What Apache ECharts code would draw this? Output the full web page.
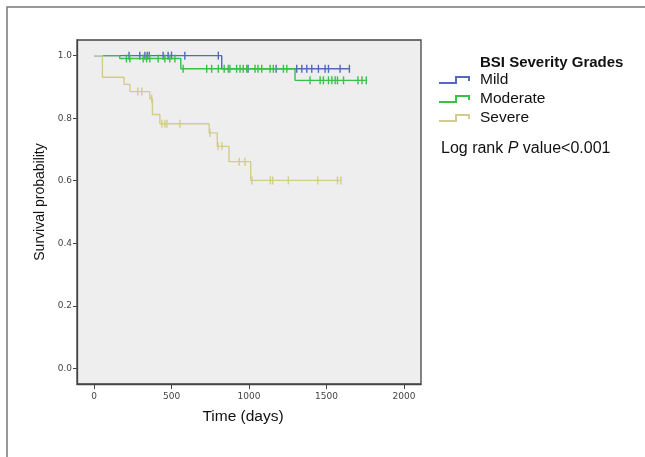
<!DOCTYPE html>
<html>
<head>
<meta charset="utf-8">
<script src="https://cdn.jsdelivr.net/npm/echarts@6/dist/echarts.min.js"></script>
<style>
html, body { margin: 0; padding: 0; background: #fff; }
#chart { width: 645px; height: 457px; }
</style>
</head>
<body>
<div id="chart"></div>
<script>
const groups = ['Mild', 'Moderate', 'Severe']
const colors = ['#5468bd', '#38c04b', '#d3cd8a']
const xTicks = [0, 500, 1000, 1500, 2000]
const yTicks = [0, 0.2, 0.4, 0.6, 0.8, 1.0]

// event times (days) and survival right after each event, plus censored times
const mildEventTimes = [824]
const mildEventSurv = [0.958]
const mildCensored = [226, 295, 328, 343, 356, 446, 478, 500, 586, 802, 994, 1175, 1308, 1341, 1373, 1405, 1448, 1491, 1513, 1588, 1648]

const moderateEventTimes = [166, 560, 1297]
const moderateEventSurv = [0.991, 0.958, 0.921]
const moderateCensored = [209, 231, 317, 339, 360, 414, 457, 489, 522, 575, 727, 759, 802, 840, 866, 877, 920, 942, 963, 985, 1039, 1058, 1082, 1136, 1157, 1222, 1244, 1394, 1459, 1480, 1513, 1535, 1556, 1571, 1610, 1703, 1729, 1757]

const severeEventTimes = [54, 194, 231, 360, 377, 425, 743, 795, 871, 1011]
const severeEventSurv = [0.931, 0.908, 0.885, 0.862, 0.812, 0.782, 0.753, 0.710, 0.661, 0.601]
const severeCensored = [282, 308, 372, 438, 457, 470, 554, 748, 800, 826, 937, 974, 1019, 1138, 1153, 1254, 1444, 1571, 1593]

const FONT = '"Liberation Sans", Arial, Helvetica, sans-serif'

// survival at time t = value after the latest event at or before t
const survAt = (evT, evS, t) => {
    let s = 1
    evT.forEach((et, i) => { if (et <= t) s = evS[i] })
    return s
}

const kmData = (evT, evS, cens) => {
    const pts = [{ value: [0, 1], symbol: 'none', order: 0 }]
    evT.forEach((t, i) => pts.push({ value: [t, evS[i]], symbol: 'none', order: 0 }))
    cens.forEach(t => pts.push({ value: [t, survAt(evT, evS, t)], order: 1 }))
    pts.sort((a, b) => a.value[0] - b.value[0] || a.order - b.order)
    return pts.map(p => ({ value: p.value, symbol: p.symbol }))
}

const groupData = [
    kmData(mildEventTimes, mildEventSurv, mildCensored),
    kmData(moderateEventTimes, moderateEventSurv, moderateCensored),
    kmData(severeEventTimes, severeEventSurv, severeCensored)
]

const chart = echarts.init(document.getElementById('chart'))

chart.setOption({
    animation: false,
    backgroundColor: '#fff',
    title: {
        text: 'BSI Severity Grades',
        left: 480,
        top: 55,
        padding: 0,
        textStyle: { fontFamily: FONT, fontSize: 15, fontWeight: 'bold', color: '#111' }
    },
    legend: {
        data: groups,
        orient: 'vertical',
        left: 439,
        top: 72,
        padding: 0,
        itemWidth: 31,
        itemHeight: 8,
        itemGap: 3,
        icon: 'path://M0,6 L16,6 L16,0 L31,0 L31,5 L29,5 L29,2 L18,2 L18,8 L0,8 Z',
        textStyle: { fontFamily: FONT, fontSize: 15.5, color: '#111', lineHeight: 16, padding: [0, 0, 0, 5] }
    },
    grid: {
        left: 77,
        right: 224,
        top: 40,
        bottom: 73,
        show: true,
        backgroundColor: '#eeeeee',
        borderColor: '#444',
        borderWidth: 1.3,
        outerBoundsMode: 'none'
    },
    xAxis: {
        type: 'value',
        min: -110,
        max: 2110,
        splitLine: { show: false },
        axisLine: { show: true, onZero: false, lineStyle: { color: '#444', width: 1.3 } },
        axisTick: { show: true, customValues: xTicks, length: 5, lineStyle: { color: '#444' } },
        axisLabel: {
            customValues: xTicks,
            fontFamily: 'DejaVu Sans',
            fontSize: 9,
            color: '#444',
            margin: 8,
            formatter: v => String(v)
        }
    },
    yAxis: {
        type: 'value',
        min: -0.05,
        max: 1.05,
        splitLine: { show: false },
        axisLine: { show: true, onZero: false, lineStyle: { color: '#444', width: 1.3 } },
        axisTick: { show: true, customValues: yTicks, length: 4, lineStyle: { color: '#444' } },
        axisLabel: {
            customValues: yTicks,
            fontFamily: 'DejaVu Sans',
            fontSize: 9,
            color: '#444',
            margin: 5,
            formatter: v => v.toFixed(1)
        }
    },
    graphic: [
        {
            type: 'rect',
            shape: { x: 7, y: 7, width: 700, height: 520 },
            style: { fill: 'none', stroke: '#777', lineWidth: 1.5 },
            silent: true
        },
        {
            type: 'text',
            x: 40,
            y: 202,
            rotation: Math.PI / 2,
            style: {
                text: 'Survival probability',
                font: '14px ' + FONT,
                fill: '#111',
                textAlign: 'center',
                textVerticalAlign: 'middle'
            }
        },
        {
            type: 'text',
            x: 243,
            y: 416.5,
            style: {
                text: 'Time (days)',
                font: '15.5px ' + FONT,
                fill: '#111',
                textAlign: 'center',
                textVerticalAlign: 'middle'
            }
        },
        {
            type: 'text',
            x: 441,
            y: 149,
            style: {
                text: '{a|Log rank }{b|P}{a| value<0.001}',
                textVerticalAlign: 'middle',
                rich: {
                    a: { fontFamily: FONT, fontSize: 16, fill: '#111', color: '#111' },
                    b: { fontFamily: FONT, fontSize: 16, fontStyle: 'italic', fill: '#111', color: '#111' }
                }
            }
        }
    ],
    series: groups.map((name, i) => ({
        name,
        type: 'line',
        step: 'end',
        data: groupData[i],
        symbol: 'rect',
        symbolSize: [1.4, 8],
        showSymbol: true,
        showAllSymbol: true,
        lineStyle: { color: colors[i], width: 1.4 },
        itemStyle: { color: colors[i] },
        emphasis: { disabled: true },
        z: 2 + i
    }))
})
</script>
</body>
</html>
